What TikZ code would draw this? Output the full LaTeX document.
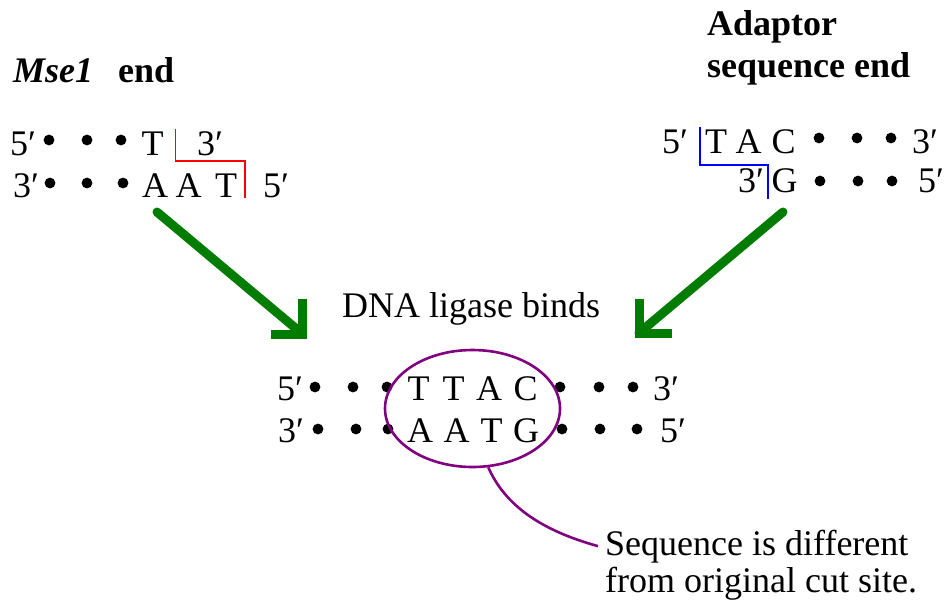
\documentclass[tikz,border=0pt]{standalone}
\usepackage{fontspec}
\setmainfont{Liberation Serif}
\usetikzlibrary{shapes.geometric}

\newcommand\seqfont{\fontsize{36}{40}\selectfont}
\definecolor{arrowgreen}{RGB}{0,125,0}
\definecolor{sitepurple}{RGB}{128,0,128}

\tikzset{
  seq/.style={font=\seqfont, inner sep=0pt, anchor=base},
  lbl/.style={font=\seqfont, inner sep=0pt, anchor=base west},
  bead/.style={fill=black},
  cutred/.style={draw=red, line width=1.6pt},
  cutblue/.style={draw=blue, line width=1.6pt},
  shaft/.style={draw=arrowgreen, line width=9pt, line cap=round},
  barb/.style={draw=arrowgreen, line width=9pt, line cap=butt, line join=miter},
  purpleline/.style={draw=sitepurple, line width=2.6pt},
}

\begin{document}
\begin{tikzpicture}[x=1pt, y=-1pt]
\useasboundingbox (0,0) rectangle (944,603);

% headings
\node[lbl] (mse) at (13,82) {\textbf{\textit{Mse1}}};
\node[lbl] (mseend) at (118,82) {\textbf{end}};
\node[lbl] (adapt1) at (707,35) {\textbf{Adaptor}};
\node[lbl] (adapt2) at (707,77) {\textbf{sequence end}};

% Mse1 cut end
\node[lbl] (lA5) at (10,155) {5′};
\foreach \x in {49,87,121} \fill[bead] (\x,140) circle (5.4pt);
\node[seq] (lT1) at (152.5,155) {T};
\node[lbl] (lA3) at (197,155) {3′};
\node[lbl] (lB3) at (13,197) {3′};
\foreach \x in {50,87,123} \fill[bead] (\x,183) circle (5.4pt);
\node[seq] (lA1) at (155,197) {A};
\node[seq] (lA2) at (188.5,197) {A};
\node[seq] (lT2) at (226,197) {T};
\node[lbl] (lB5) at (263,197) {5′};
\draw[cutred] (175.5,129) -- (175.5,161) -- (245,161) -- (245,198);

% adaptor end
\node[lbl] (rA5) at (662,153) {5′};
\node[seq] (rT) at (716,153) {T};
\node[seq] (rA) at (748.5,153) {A};
\node[seq] (rC) at (783.5,153) {C};
\foreach \x in {819,857,891} \fill[bead] (\x,138) circle (5.4pt);
\node[lbl] (rA3) at (912,153) {3′};
\node[lbl] (rB3) at (738,192) {3′};
\node[seq] (rG) at (784.5,192) {G};
\foreach \x in {820,858,892} \fill[bead] (\x,181) circle (5.4pt);
\node[lbl] (rB5) at (918,192) {5′};
\draw[cutblue] (700,127) -- (700,165) -- (768,165) -- (768,199);

% ligation arrows
\coordinate (a1s) at (157,212);
\coordinate (a1t) at (302.5,334);
\coordinate (a2s) at (783,212);
\coordinate (a2t) at (639,333);
\draw[shaft] (a1s) -- (a1t);
\draw[barb] (a1t) ++(0,-35) -- (a1t) -- ++(-31.5,0);
\draw[shaft] (a2s) -- (a2t);
\draw[barb] (a2t) ++(0,-34) -- (a2t) -- ++(33,0);

\node[lbl] (ligase) at (342,317) {DNA ligase binds};

% ligated product
\node[lbl] (mA5) at (277,400) {5′};
\foreach \x in {315,353,387} \fill[bead] (\x,387) circle (5.4pt);
\node[seq] (mT1) at (418.5,400) {T};
\node[seq] (mT2) at (453.5,400) {T};
\node[seq] (mA1) at (489,400) {A};
\node[seq] (mC1) at (525.5,400) {C};
\foreach \x in {560,599,633} \fill[bead] (\x,387) circle (5.4pt);
\node[lbl] (mA3) at (653,400) {3′};
\node[lbl] (mB3) at (278,442) {3′};
\foreach \x in {318,356,388} \fill[bead] (\x,429) circle (5.4pt);
\node[seq] (mA2) at (420,442) {A};
\node[seq] (mA3b) at (456.5,442) {A};
\node[seq] (mT3) at (491.5,442) {T};
\node[seq] (mG1) at (526,442) {G};
\foreach \x in {562,600,637} \fill[bead] (\x,429) circle (5.4pt);
\node[lbl] (mB5) at (660,442) {5′};

% new site and its note
\node[ellipse, purpleline, minimum width=175pt, minimum height=117pt, inner sep=0pt]
  (site) at (472.5,408.5) {};
\node[lbl] (note1) at (605,555) {Sequence is different};
\node[lbl] (note2) at (605,592) {from original cut site.};
\draw[purpleline] (site.-75) .. controls (505,505) and (540,530) .. ([xshift=-7pt]note1.west);

\end{tikzpicture}
\end{document}
